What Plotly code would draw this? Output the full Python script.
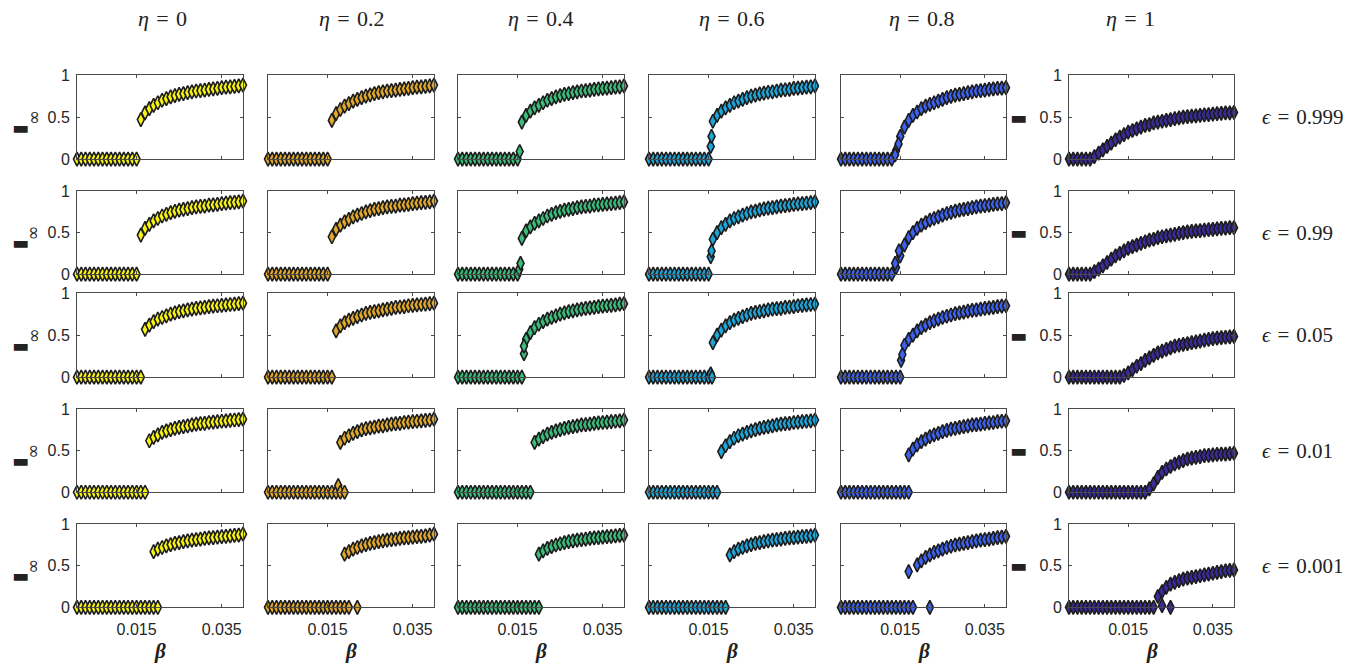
import plotly.graph_objects as go

# ---------------- data ----------------
BETA = [0.001, 0.002, 0.003, 0.004, 0.005, 0.006, 0.007, 0.008, 0.009, 0.010,
        0.011, 0.012, 0.013, 0.014, 0.015, 0.016, 0.017, 0.018, 0.019, 0.020,
        0.021, 0.022, 0.023, 0.024, 0.025, 0.026, 0.027, 0.028, 0.029, 0.030,
        0.031, 0.032, 0.033, 0.034, 0.035, 0.036, 0.037, 0.038, 0.039, 0.040]

ETA_LABELS = ["0", "0.2", "0.4", "0.6", "0.8", "1"]
EPS_LABELS = ["0.999", "0.99", "0.05", "0.01", "0.001"]
COLORS = ["#F6F315", "#E0A92B", "#3CBD7B", "#1DA6DA", "#3D62EF", "#3A2B9C"]

X_TICKS = [0.015, 0.035]
X_TICK_TEXT = ["0.015", "0.035"]
Y_TICKS = [0, 0.5, 1]
Y_TICK_TEXT = ["0", "0.5", "1"]

# eta = 0  (rows: eps = 0.999, 0.99, 0.05, 0.01, 0.001)
I_ETA_0 = [
    [0, 0, 0, 0, 0, 0, 0, 0, 0, 0, 0, 0, 0, 0, 0,
     0.47, 0.55, 0.60, 0.64, 0.67, 0.70, 0.72, 0.74, 0.755, 0.77, 0.78, 0.79, 0.80, 0.81, 0.815,
     0.82, 0.83, 0.835, 0.84, 0.85, 0.855, 0.86, 0.865, 0.87, 0.88],
    [0, 0, 0, 0, 0, 0, 0, 0, 0, 0, 0, 0, 0, 0, 0,
     0.47, 0.55, 0.60, 0.64, 0.67, 0.70, 0.72, 0.74, 0.755, 0.77, 0.78, 0.79, 0.80, 0.81, 0.815,
     0.82, 0.83, 0.835, 0.84, 0.85, 0.855, 0.86, 0.865, 0.87, 0.88],
    [0, 0, 0, 0, 0, 0, 0, 0, 0, 0, 0, 0, 0, 0, 0, 0,
     0.57, 0.62, 0.66, 0.69, 0.71, 0.73, 0.75, 0.765, 0.78, 0.79, 0.80, 0.81, 0.82, 0.825,
     0.83, 0.84, 0.845, 0.85, 0.855, 0.86, 0.865, 0.87, 0.875, 0.88],
    [0, 0, 0, 0, 0, 0, 0, 0, 0, 0, 0, 0, 0, 0, 0, 0, 0,
     0.62, 0.66, 0.69, 0.72, 0.74, 0.755, 0.77, 0.78, 0.79, 0.80, 0.81, 0.82, 0.825,
     0.83, 0.84, 0.845, 0.85, 0.855, 0.86, 0.865, 0.87, 0.875, 0.88],
    [0, 0, 0, 0, 0, 0, 0, 0, 0, 0, 0, 0, 0, 0, 0, 0, 0, 0,
     0.67, 0.70, 0.72, 0.74, 0.755, 0.77, 0.78, 0.79, 0.80, 0.81, 0.815, 0.82,
     0.83, 0.835, 0.84, 0.845, 0.85, 0.855, 0.86, 0.865, 0.87, 0.88],
]
EXTRA_B_ETA_0 = [[], [], [], [], [0.019, 0.020]]
EXTRA_I_ETA_0 = [[], [], [], [], [0, 0]]

# eta = 0.2
I_ETA_02 = [
    [0, 0, 0, 0, 0, 0, 0, 0, 0, 0, 0, 0, 0, 0, 0,
     0.46, 0.54, 0.59, 0.63, 0.66, 0.69, 0.71, 0.73, 0.75, 0.765, 0.78, 0.79, 0.80, 0.81, 0.815,
     0.82, 0.83, 0.835, 0.84, 0.85, 0.855, 0.86, 0.865, 0.87, 0.88],
    [0, 0, 0, 0, 0, 0, 0, 0, 0, 0, 0, 0, 0, 0, 0,
     0.45, 0.54, 0.59, 0.63, 0.66, 0.69, 0.71, 0.73, 0.75, 0.765, 0.78, 0.79, 0.80, 0.81, 0.815,
     0.82, 0.83, 0.835, 0.84, 0.85, 0.855, 0.86, 0.865, 0.87, 0.88],
    [0, 0, 0, 0, 0, 0, 0, 0, 0, 0, 0, 0, 0, 0, 0, 0,
     0.55, 0.61, 0.65, 0.68, 0.70, 0.72, 0.74, 0.76, 0.77, 0.78, 0.79, 0.80, 0.81, 0.82,
     0.83, 0.835, 0.84, 0.85, 0.855, 0.86, 0.865, 0.87, 0.875, 0.88],
    [0, 0, 0, 0, 0, 0, 0, 0, 0, 0, 0, 0, 0, 0, 0, 0, 0,
     0.60, 0.65, 0.68, 0.71, 0.73, 0.75, 0.765, 0.775, 0.785, 0.795, 0.80, 0.81, 0.82,
     0.825, 0.83, 0.84, 0.845, 0.85, 0.855, 0.86, 0.865, 0.87, 0.88],
    [0, 0, 0, 0, 0, 0, 0, 0, 0, 0, 0, 0, 0, 0, 0, 0, 0, 0,
     0.64, 0.67, 0.70, 0.72, 0.74, 0.755, 0.77, 0.78, 0.79, 0.80, 0.81, 0.815,
     0.82, 0.83, 0.835, 0.84, 0.845, 0.85, 0.855, 0.86, 0.87, 0.88],
]
EXTRA_B_ETA_02 = [[], [], [], [0.0175, 0.018, 0.019], [0.019, 0.020, 0.022]]
EXTRA_I_ETA_02 = [[], [], [], [0.08, 0, 0], [0, 0, 0]]

# eta = 0.4
I_ETA_04 = [
    [0, 0, 0, 0, 0, 0, 0, 0, 0, 0, 0, 0, 0, 0, 0,
     0.44, 0.52, 0.57, 0.61, 0.64, 0.67, 0.70, 0.72, 0.74, 0.755, 0.77, 0.78, 0.79, 0.80, 0.81,
     0.815, 0.82, 0.83, 0.835, 0.84, 0.845, 0.85, 0.855, 0.86, 0.87],
    [0, 0, 0, 0, 0, 0, 0, 0, 0, 0, 0, 0, 0, 0, 0,
     0.43, 0.52, 0.57, 0.61, 0.64, 0.67, 0.70, 0.72, 0.74, 0.755, 0.77, 0.78, 0.79, 0.80, 0.81,
     0.815, 0.82, 0.83, 0.835, 0.84, 0.845, 0.85, 0.855, 0.86, 0.87],
    [0, 0, 0, 0, 0, 0, 0, 0, 0, 0, 0, 0, 0, 0, 0, 0,
     0.45, 0.53, 0.59, 0.63, 0.66, 0.69, 0.71, 0.73, 0.75, 0.765, 0.78, 0.79, 0.80, 0.81,
     0.82, 0.825, 0.83, 0.84, 0.845, 0.85, 0.855, 0.86, 0.87, 0.875],
    [0, 0, 0, 0, 0, 0, 0, 0, 0, 0, 0, 0, 0, 0, 0, 0, 0, 0,
     0.60, 0.64, 0.67, 0.70, 0.72, 0.74, 0.755, 0.77, 0.78, 0.79, 0.80, 0.81,
     0.815, 0.82, 0.83, 0.835, 0.84, 0.845, 0.85, 0.855, 0.86, 0.87],
    [0, 0, 0, 0, 0, 0, 0, 0, 0, 0, 0, 0, 0, 0, 0, 0, 0, 0, 0,
     0.64, 0.68, 0.71, 0.73, 0.75, 0.765, 0.78, 0.79, 0.80, 0.81, 0.815,
     0.82, 0.83, 0.835, 0.84, 0.845, 0.85, 0.855, 0.86, 0.865, 0.87],
]
EXTRA_B_ETA_04 = [[0.0155], [0.0154, 0.0157], [0.0165, 0.0165], [], [0.020]]
EXTRA_I_ETA_04 = [[0.09], [0.06, 0.13], [0.28, 0.37], [], [0]]

# eta = 0.6
I_ETA_06 = [
    [0, 0, 0, 0, 0, 0, 0, 0, 0, 0, 0, 0, 0, 0, 0,
     0.45, 0.52, 0.57, 0.61, 0.64, 0.67, 0.69, 0.71, 0.73, 0.75, 0.76, 0.775, 0.785, 0.795, 0.80,
     0.81, 0.82, 0.825, 0.83, 0.84, 0.845, 0.85, 0.855, 0.86, 0.87],
    [0, 0, 0, 0, 0, 0, 0, 0, 0, 0, 0, 0, 0, 0, 0,
     0.42, 0.50, 0.56, 0.60, 0.64, 0.67, 0.69, 0.71, 0.73, 0.75, 0.76, 0.775, 0.785, 0.795, 0.80,
     0.81, 0.82, 0.825, 0.83, 0.84, 0.845, 0.85, 0.855, 0.86, 0.87],
    [0, 0, 0, 0, 0, 0, 0, 0, 0, 0, 0, 0, 0, 0, 0,
     0.41, 0.50, 0.56, 0.61, 0.65, 0.68, 0.70, 0.72, 0.74, 0.76, 0.77, 0.78, 0.79, 0.80, 0.81,
     0.815, 0.82, 0.83, 0.835, 0.84, 0.85, 0.855, 0.86, 0.865, 0.87],
    [0, 0, 0, 0, 0, 0, 0, 0, 0, 0, 0, 0, 0, 0, 0, 0, 0,
     0.49, 0.56, 0.61, 0.65, 0.68, 0.70, 0.72, 0.74, 0.755, 0.77, 0.78, 0.79, 0.80,
     0.81, 0.82, 0.825, 0.83, 0.84, 0.845, 0.85, 0.855, 0.86, 0.87],
    [0, 0, 0, 0, 0, 0, 0, 0, 0, 0, 0, 0, 0, 0, 0, 0, 0, 0, 0,
     0.63, 0.67, 0.70, 0.72, 0.74, 0.755, 0.77, 0.78, 0.79, 0.80, 0.81,
     0.815, 0.82, 0.83, 0.835, 0.84, 0.845, 0.85, 0.855, 0.86, 0.87],
]
EXTRA_B_ETA_06 = [[0.0155, 0.0157], [0.0155, 0.0157], [0.0155, 0.0158], [], []]
EXTRA_I_ETA_06 = [[0.15, 0.27], [0.21, 0.28], [0.04, 0], [], []]

# eta = 0.8
I_ETA_08 = [
    [0, 0, 0, 0, 0, 0, 0, 0, 0, 0, 0, 0, 0,
     0.10, 0.27, 0.38, 0.46, 0.52, 0.56, 0.60, 0.63, 0.65, 0.67, 0.69, 0.71, 0.73, 0.745,
     0.76, 0.77, 0.78, 0.79, 0.80, 0.81, 0.815, 0.82, 0.83, 0.835, 0.84, 0.845, 0.85],
    [0, 0, 0, 0, 0, 0, 0, 0, 0, 0, 0, 0, 0,
     0.08, 0.22, 0.35, 0.44, 0.50, 0.55, 0.59, 0.62, 0.65, 0.67, 0.69, 0.71, 0.73, 0.745,
     0.76, 0.77, 0.78, 0.79, 0.80, 0.81, 0.82, 0.825, 0.83, 0.84, 0.845, 0.85, 0.86],
    [0, 0, 0, 0, 0, 0, 0, 0, 0, 0, 0, 0, 0, 0, 0,
     0.38, 0.45, 0.50, 0.55, 0.59, 0.62, 0.65, 0.67, 0.69, 0.71, 0.725, 0.74, 0.755, 0.765,
     0.775, 0.785, 0.795, 0.80, 0.81, 0.82, 0.825, 0.83, 0.84, 0.845, 0.85],
    [0, 0, 0, 0, 0, 0, 0, 0, 0, 0, 0, 0, 0, 0, 0, 0,
     0.45, 0.52, 0.57, 0.61, 0.64, 0.67, 0.69, 0.71, 0.73, 0.745, 0.76, 0.77, 0.78,
     0.79, 0.80, 0.81, 0.815, 0.82, 0.83, 0.835, 0.84, 0.85, 0.855, 0.86],
    [0, 0, 0, 0, 0, 0, 0, 0, 0, 0, 0, 0, 0, 0, 0, 0,
     0.43, None, 0.51, 0.56, 0.60, 0.63, 0.66, 0.68, 0.70, 0.72, 0.735, 0.75, 0.76,
     0.77, 0.78, 0.79, 0.80, 0.81, 0.815, 0.82, 0.83, 0.84, 0.845, 0.855],
]
EXTRA_B_ETA_08 = [[0.0138, 0.0146], [0.0138, 0.0147], [0.0152, 0.0155], [0.017],
                  [0.017, 0.018, 0.022]]
EXTRA_I_ETA_08 = [[0.05, 0.18], [0.13, 0.28], [0.20, 0.27], [0], [0, 0, 0]]

# eta = 1
I_ETA_1 = [
    [0, 0, 0, 0, 0, 0,
     0.03, 0.07, 0.11, 0.15, 0.19, 0.23, 0.26, 0.29, 0.32, 0.34, 0.36, 0.38, 0.40, 0.41,
     0.43, 0.44, 0.45, 0.46, 0.47, 0.48, 0.49, 0.50, 0.505, 0.51, 0.515, 0.52, 0.525, 0.53,
     0.535, 0.54, 0.545, 0.55, 0.55, 0.555],
    [0, 0, 0, 0, 0, 0,
     0.03, 0.06, 0.10, 0.14, 0.18, 0.22, 0.25, 0.28, 0.31, 0.33, 0.35, 0.37, 0.39, 0.41,
     0.42, 0.44, 0.45, 0.46, 0.47, 0.48, 0.49, 0.50, 0.51, 0.515, 0.52, 0.525, 0.53, 0.535,
     0.54, 0.545, 0.55, 0.555, 0.56, 0.56],
    [0, 0, 0, 0, 0, 0, 0, 0, 0, 0, 0, 0, 0,
     0.02, 0.05, 0.09, 0.13, 0.16, 0.20, 0.23, 0.26, 0.29, 0.31, 0.33, 0.35, 0.37, 0.38,
     0.39, 0.40, 0.41, 0.42, 0.43, 0.44, 0.45, 0.46, 0.465, 0.47, 0.475, 0.48, 0.485],
    [0, 0, 0, 0, 0, 0, 0, 0, 0, 0, 0, 0, 0, 0, 0, 0, 0, 0, 0,
     0.04, 0.10, 0.18, 0.24, 0.28, 0.31, 0.34, 0.36, 0.38, 0.40, 0.41, 0.42, 0.43,
     0.44, 0.445, 0.45, 0.455, 0.46, 0.46, 0.465, 0.47],
    [0, 0, 0, 0, 0, 0, 0, 0, 0, 0, 0, 0, 0, 0, 0, 0, 0, 0, 0, 0, 0,
     0.13, 0.19, 0.24, 0.28, 0.30, 0.32, 0.34, 0.35, 0.36, 0.37, 0.38, 0.39, 0.40,
     0.41, 0.42, 0.43, 0.44, 0.445, 0.45],
]
EXTRA_B_ETA_1 = [[], [], [], [], [0.023, 0.025]]
EXTRA_I_ETA_1 = [[], [], [], [], [0.02, 0]]

COLUMNS = [I_ETA_0, I_ETA_02, I_ETA_04, I_ETA_06, I_ETA_08, I_ETA_1]
EXTRA_B = [EXTRA_B_ETA_0, EXTRA_B_ETA_02, EXTRA_B_ETA_04, EXTRA_B_ETA_06, EXTRA_B_ETA_08, EXTRA_B_ETA_1]
EXTRA_I = [EXTRA_I_ETA_0, EXTRA_I_ETA_02, EXTRA_I_ETA_04, EXTRA_I_ETA_06, EXTRA_I_ETA_08, EXTRA_I_ETA_1]

for col in COLUMNS:
    for row in col:
        assert len(row) == len(BETA), len(row)

# ---------------- layout (target pixel positions as they appear on the photo) ----------------
W, H = 1367, 666
X_PIX = [(77, 243), (268, 434), (458, 624), (649, 815), (841, 1006), (1069, 1234)]
Y_PIX = [(75, 159), (191, 274), (293, 377), (409, 492), (524, 607)]
TITLE_X = [162, 352, 541, 732, 922, 1130]
# the photographed page shows the figure slightly squeezed vertically; compensate
Y_SHIFT, Y_SCALE = 8.0, 0.974


def px(x):
    return x / W


def py(y):
    yy = (y - Y_SHIFT) / Y_SCALE
    return 1 - yy / H


fig = go.Figure()
layout = dict(
    width=W, height=H,
    margin=dict(l=0, r=0, t=0, b=0),
    paper_bgcolor="white", plot_bgcolor="white",
    showlegend=False,
)
annotations = []
TICK_FONT = dict(family="Liberation Sans, Arial, sans-serif", size=16, color="#262626")
AX_COLOR = "#4a4a4a"

for r in range(5):
    for c in range(6):
        k = r * 6 + c + 1
        xa = "x" if k == 1 else f"x{k}"
        ya = "y" if k == 1 else f"y{k}"
        marker = dict(symbol="diamond-tall", size=10, color=COLORS[c],
                      line=dict(color="#1c1c1c", width=1.6))
        fig.add_trace(go.Scatter(x=BETA, y=COLUMNS[c][r], mode="markers",
                                 marker=marker, xaxis=xa, yaxis=ya,
                                 cliponaxis=False, hoverinfo="x+y"))
        if EXTRA_B[c][r]:
            fig.add_trace(go.Scatter(x=EXTRA_B[c][r], y=EXTRA_I[c][r], mode="markers",
                                     marker=marker, xaxis=xa, yaxis=ya,
                                     cliponaxis=False, hoverinfo="x+y"))
        x0, x1 = X_PIX[c]
        y0, y1 = Y_PIX[r]
        layout["xaxis" if k == 1 else f"xaxis{k}"] = dict(
            domain=[px(x0), px(x1)], range=[BETA[0], BETA[-1]],
            anchor=ya, tickvals=X_TICKS, ticktext=X_TICK_TEXT,
            showticklabels=(r == 4), ticks="inside", ticklen=3, tickcolor=AX_COLOR,
            showline=True, mirror="ticks", linecolor=AX_COLOR, linewidth=1,
            showgrid=False, zeroline=False, tickfont=TICK_FONT, ticklabelstandoff=8,
        )
        layout["yaxis" if k == 1 else f"yaxis{k}"] = dict(
            domain=[py(y1), py(y0)], range=[0, 1],
            anchor=xa, tickvals=Y_TICKS, ticktext=Y_TICK_TEXT,
            showticklabels=(c == 0 or c == 5), ticks="inside", ticklen=3, tickcolor=AX_COLOR,
            showline=True, mirror="ticks", linecolor=AX_COLOR, linewidth=1,
            showgrid=False, zeroline=False, tickfont=TICK_FONT, ticklabelstandoff=3,
        )

SERIF = "Liberation Serif, DejaVu Serif, serif"
SP = "\u2004"
for c in range(6):
    annotations.append(dict(
        x=px(TITLE_X[c]), y=py(18), xref="paper", yref="paper",
        text=f"<i>η</i>{SP}={SP}{ETA_LABELS[c]}", showarrow=False,
        font=dict(family=SERIF, size=22, color="#222"), xanchor="center", yanchor="middle"))
    annotations.append(dict(
        x=px((X_PIX[c][0] + X_PIX[c][1]) / 2), y=py(651), xref="paper", yref="paper",
        text="<b><i>β</i></b>", showarrow=False,
        font=dict(family=SERIF, size=21, color="#222"), xanchor="center", yanchor="middle"))

for r in range(5):
    yc = (Y_PIX[r][0] + Y_PIX[r][1]) / 2
    annotations.append(dict(
        x=px(1260), y=py(yc), xref="paper", yref="paper",
        text=f"<i>ϵ</i>{SP}={SP}{EPS_LABELS[r]}", showarrow=False,
        font=dict(family=SERIF, size=21, color="#222"), xanchor="left", yanchor="middle"))
    # broken y-label glyphs (bar + rotated infinity) as in the reference
    annotations.append(dict(
        x=px(20), y=py(yc + 10), xref="paper", yref="paper", text="▬", showarrow=False,
        font=dict(family="DejaVu Sans", size=18, color="#222"), xanchor="center", yanchor="middle"))
    annotations.append(dict(
        x=px(33), y=py(yc + 1), xref="paper", yref="paper", text="∞", showarrow=False,
        textangle=-90,
        font=dict(family="DejaVu Sans", size=18, color="#222"), xanchor="center", yanchor="middle"))
    annotations.append(dict(
        x=px(1018), y=py(yc), xref="paper", yref="paper", text="▬", showarrow=False,
        font=dict(family="DejaVu Sans", size=18, color="#222"), xanchor="center", yanchor="middle"))

layout["annotations"] = annotations
fig.update_layout(**layout)
fig.write_html("out.html",
               config={"displayModeBar": False},
               post_script="document.body.style.margin='0px';"
                           "document.body.style.overflow='hidden';")
